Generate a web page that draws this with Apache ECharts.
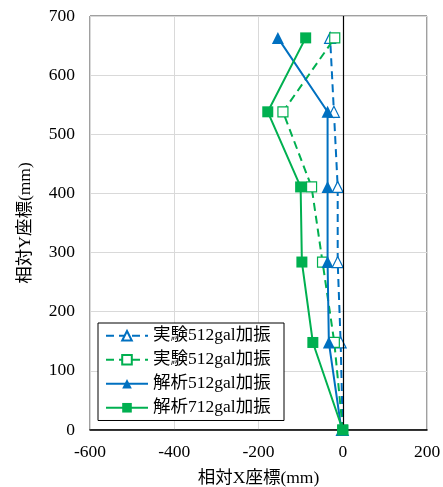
<!DOCTYPE html>
<html><head><meta charset="utf-8">
<script src="https://cdn.jsdelivr.net/npm/echarts@6/dist/echarts.min.js"></script>
<style>html,body{margin:0;padding:0;background:#fff}#c{width:443px;height:487px}</style>
</head><body><div id="c"></div>
<script>
const heights = [0, 148, 284, 411, 538, 663];
const expTri512 = [0, -5, -12, -12, -21, -30];
const expSq512 = [0, -20, -48, -74, -142, -19];
const ana512 = [-3, -33, -36, -36, -36, -154];
const ana712 = [0, -71, -97, -100, -178, -88];
const names = ['実験512gal加振', '実験512gal加振 ', '解析512gal加振', '解析712gal加振'];
const xTicks = [-600, -400, -200, 0, 200];
const yTicks = [0, 100, 200, 300, 400, 500, 600, 700];

const BLUE = '#0070C0', GREEN = '#00B050';
const FONT = "'Liberation Serif','Noto Sans CJK JP',serif";
const pts = arr => arr.map((x, i) => [x, heights[i]]);

const chart = echarts.init(document.getElementById('c'));
chart.setOption({
  animation: false,
  backgroundColor: '#fff',
  grid: {left: 90, right: 16, top: 16, bottom: 57, show: true, borderColor: '#404040', borderWidth: 1,
         containLabel: false, outerBoundsMode: 'none'},
  xAxis: {
    type: 'value', min: xTicks[0], max: xTicks[xTicks.length - 1], interval: 200,
    name: '相対X座標(mm)', nameLocation: 'middle', nameGap: 40,
    nameTextStyle: {fontFamily: FONT, fontSize: 17.5, color: '#000'},
    axisLine: {show: true, lineStyle: {color: '#000', width: 1.5}},
    axisTick: {show: false},
    axisLabel: {fontFamily: FONT, fontSize: 17.5, color: '#000', margin: 14},
    splitLine: {show: true, lineStyle: {color: '#d9d9d9', width: 1}}
  },
  yAxis: {
    type: 'value', min: yTicks[0], max: yTicks[yTicks.length - 1], interval: 100,
    name: '相対Y座標(mm)', nameLocation: 'middle', nameGap: 56, nameRotate: 90,
    nameTextStyle: {fontFamily: FONT, fontSize: 17.5, color: '#000'},
    axisLine: {show: false},
    axisTick: {show: false},
    axisLabel: {fontFamily: FONT, fontSize: 17.5, color: '#000', margin: 15},
    splitLine: {show: true, lineStyle: {color: '#d9d9d9', width: 1}}
  },
  legend: {
    orient: 'vertical', left: 98, top: 323, itemWidth: 42, itemHeight: 12, itemGap: 6.5,
    padding: [4, 9, 4, 7],
    backgroundColor: '#fff', borderColor: '#000', borderWidth: 1, borderRadius: 0,
    textStyle: {fontFamily: FONT, fontSize: 17.5, color: '#000'},
    data: names
  },
  series: [
    {
      name: names[0], type: 'line', data: pts(expTri512),
      symbol: 'triangle', symbolSize: 11,
      lineStyle: {color: BLUE, width: 2, type: [8, 5]},
      itemStyle: {color: '#fff', borderColor: BLUE, borderWidth: 1.2},
      z: 3,
      markLine: {silent: true, symbol: 'none', label: {show: false},
        lineStyle: {color: '#000', width: 1.2, type: 'solid'}, data: [{xAxis: 0}]}
    },
    {
      name: names[1], type: 'line', data: pts(expSq512),
      symbol: 'rect', symbolSize: 10,
      lineStyle: {color: GREEN, width: 2, type: [8, 5]},
      itemStyle: {color: '#fff', borderColor: GREEN, borderWidth: 1.2},
      z: 4
    },
    {
      name: names[2], type: 'line', data: pts(ana512),
      symbol: 'triangle', symbolSize: 12,
      lineStyle: {color: BLUE, width: 2},
      itemStyle: {color: BLUE},
      z: 5
    },
    {
      name: names[3], type: 'line', data: pts(ana712),
      symbol: 'rect', symbolSize: 11,
      lineStyle: {color: GREEN, width: 2},
      itemStyle: {color: GREEN},
      z: 6
    }
  ]
});
</script></body></html>
